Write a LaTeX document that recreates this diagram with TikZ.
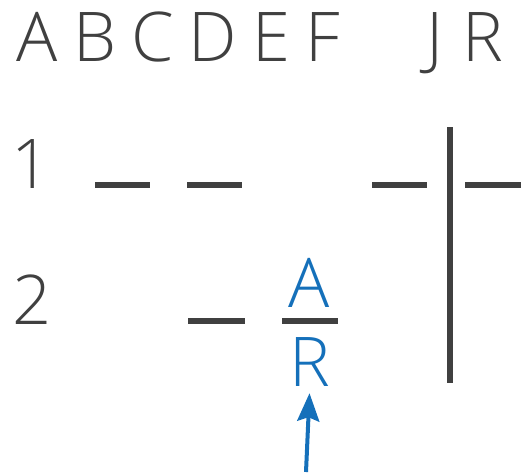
\documentclass[tikz,border=0pt]{standalone}
\usepackage{fontspec}
\setmainfont{Open Sans Light}
\usetikzlibrary{arrows.meta}
\definecolor{ink}{HTML}{404040}
\definecolor{accent}{HTML}{1570BA}
\tikzset{
  glyph/.style={anchor=base, inner sep=0pt, text=ink, font=\fontsize{68.6}{80}\selectfont},
  bluglyph/.style={glyph, text=accent},
  bar/.style={draw=ink, line width=6pt}
}
\begin{document}
\begin{tikzpicture}[x=1pt, y=-1pt]
  \useasboundingbox (0,0) rectangle (527,472);
  % header letters
  \node[glyph] (hA) at (37.5,61) {A};
  \node[glyph] (hB) at (95.5,61) {B};
  \node[glyph] (hC) at (152.5,61) {C};
  \node[glyph] (hD) at (213,61) {D};
  \node[glyph] (hE) at (271.5,61) {E};
  \node[glyph] (hF) at (322.5,61) {F};
  \node[glyph] (hJ) at (434.5,61) {J};
  \node[glyph] (hR) at (482.5,61) {R};

  % row labels
  \node[glyph] (r1) at (31,188) {1};
  \node[glyph] (r2) at (32,324) {2};

  % row 1
  \draw[bar] (95,185) -- (150,185);
  \draw[bar] (187,185) -- (242,185);
  \draw[bar] (372,185) -- (427,185);
  \draw[bar] (465,185) -- (521,185);
  \draw[bar] (450,127) -- (450,383);

  % row 2
  \draw[bar] (188,321) -- (245,321);
  \draw[bar] (282,321) -- (338,321);
  \node[bluglyph] (bA) at (309.5,307) {A};
  \node[bluglyph] (bR) at (309.5,386) {R};

  \coordinate (foot) at (306,472);
  \draw[draw=accent, fill=accent, line width=4pt, -{Stealth[length=28pt, width=22pt, inset=4pt]}] (foot) -- ([yshift=-7pt]bR.south);
\end{tikzpicture}
\end{document}
